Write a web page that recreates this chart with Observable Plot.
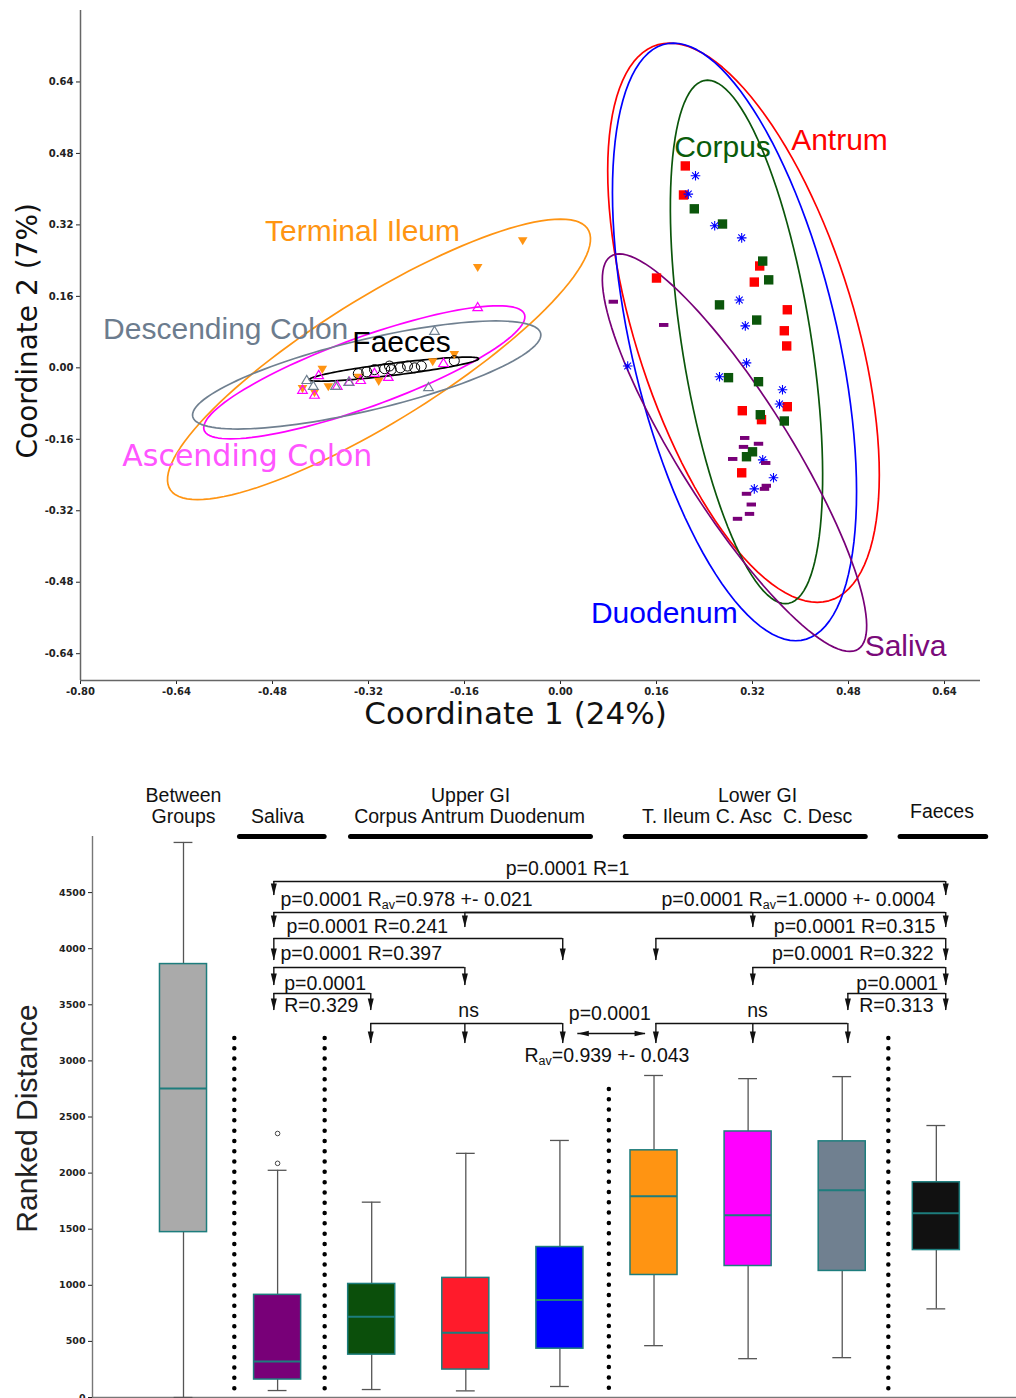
<!DOCTYPE html>
<html><head><meta charset="utf-8">
<script src="https://cdn.jsdelivr.net/npm/d3@7"></script>
<script src="https://cdn.jsdelivr.net/npm/@observablehq/plot@0.6"></script>
<style>
body{margin:0;background:#fff;}
#wrap{width:1016px;}
#wrap svg{display:block;}
</style></head><body><div id="wrap"></div>
<script>
// ================= TOP CHART DATA (PCoA) =================
const xTicks = [-0.80, -0.64, -0.48, -0.32, -0.16, 0.00, 0.16, 0.32, 0.48, 0.64];
const yTicks = [-0.64, -0.48, -0.32, -0.16, 0.00, 0.16, 0.32, 0.48, 0.64];

const groupNames  = ["Antrum", "Corpus", "Duodenum", "Saliva", "Terminal Ileum", "Ascending Colon", "Descending Colon", "Faeces"];
const groupColors = ["#ff0000", "#0b560b", "#0000ff", "#780078", "#ff9412", "#ff00ff", "#708090", "#000000"];

const antrumPts = [[0.208,0.452],[0.205,0.387],[0.160,0.201],[0.332,0.228],[0.323,0.192],[0.378,0.130],[0.373,0.083],[0.377,0.049],[0.303,-0.096],[0.378,-0.087],[0.335,-0.116],[0.302,-0.235]];
const corpusPts = [[0.223,0.356],[0.270,0.322],[0.337,0.239],[0.347,0.197],[0.265,0.141],[0.327,0.107],[0.280,-0.022],[0.330,-0.031],[0.333,-0.105],[0.373,-0.119],[0.320,-0.188],[0.310,-0.199]];
const duodenumPts = [[0.225,0.430],[0.213,0.389],[0.257,0.318],[0.302,0.291],[0.298,0.152],[0.308,0.094],[0.112,0.004],[0.310,0.011],[0.265,-0.020],[0.370,-0.049],[0.365,-0.081],[0.337,-0.206],[0.355,-0.246],[0.323,-0.271]];
const salivaPts = [[0.088,0.148],[0.172,0.096],[0.307,-0.157],[0.305,-0.177],[0.330,-0.170],[0.287,-0.204],[0.342,-0.213],[0.343,-0.264],[0.340,-0.271],[0.310,-0.282],[0.318,-0.306],[0.315,-0.327],[0.295,-0.338]];
const ileumPts = [[-0.138,0.224],[-0.063,0.284],[-0.177,0.029],[-0.213,0.013],[-0.397,-0.004],[-0.303,-0.031],[-0.387,-0.043],[-0.430,-0.047],[-0.410,-0.056],[-0.337,-0.022]];
const ascPts = [[-0.430,-0.049],[-0.403,-0.016],[-0.410,-0.060],[-0.372,-0.040],[-0.352,-0.031],[-0.333,-0.027],[-0.310,-0.011],[-0.287,-0.020],[-0.195,0.011],[-0.138,0.136]];
const descPts = [[-0.423,-0.027],[-0.412,-0.040],[-0.375,-0.040],[-0.353,-0.031],[-0.210,0.083],[-0.220,-0.043]];
const faecesPts = [[-0.337,-0.013],[-0.323,-0.009],[-0.310,-0.004],[-0.293,-0.002],[-0.285,0.004],[-0.282,-0.004],[-0.267,0.000],[-0.255,0.004],[-0.243,0.000],[-0.232,0.004],[-0.177,0.016]];

// ellipse: centre + conjugate semi-diameters (a, b), same order as groupNames
const ellipseCx = [0.305, 0.310, 0.290, 0.290, -0.3025, -0.327, -0.323, -0.2775];
const ellipseCy = [0.101, 0.058, 0.058, -0.190, 0.019, -0.010, -0.016, -0.003];
const ellipseAx = [0.123, 0.065, 0.102, 0.192, -0.3025, -0.223, -0.215, 0.141];
const ellipseAy = [-0.626, -0.586, -0.669, -0.445, -0.314, -0.149, -0.121, 0.0235];
const ellipseBx = [0.190, 0.109, 0.176, 0.108, 0.181, 0.148, 0.195, 0.0012];
const ellipseBy = [0, 0, 0, 0, 0, 0, 0, -0.0133];

const labelText  = ["Terminal Ileum", "Descending Colon", "Faeces", "Ascending Colon", "Corpus", "Antrum", "Duodenum", "Saliva"];
const labelX     = [-0.330, -0.558, -0.265, -0.522, 0.270, 0.465, 0.173, 0.575];
const labelY     = [0.306, 0.085, 0.056, -0.199, 0.494, 0.510, -0.550, -0.624];
const labelColor = ["#ff9512", "#6c7c8e", "#000000", "#ff55ff", "#0a5c0a", "#ff0000", "#0000ff", "#7a0a7a"];

// ================= BOTTOM CHART DATA (box plots) =================
const boxNames = ["Between Groups", "Saliva", "Corpus", "Antrum", "Duodenum", "T. Ileum", "C. Asc", "C. Desc", "Faeces"];
const boxLow  = [0, 62, 71, 59, 98, 462, 346, 355, 790];
const boxQ1   = [1474, 160, 382, 249, 435, 1092, 1172, 1128, 1314];
const boxMed  = [2753, 320, 720, 577, 870, 1794, 1625, 1847, 1643];
const boxQ3   = [3863, 915, 1012, 1066, 1341, 2203, 2371, 2283, 1918];
const boxHigh = [4947, 2025, 1741, 2176, 2291, 2870, 2842, 2860, 2424];
const boxFill = ["#aaaaaa", "#780078", "#0b4f0b", "#ff1b2b", "#0000ff", "#ff9412", "#ff00ff", "#708090", "#111111"];
const outlierBox   = [1, 1];
const outlierValue = [2087, 2353];
const rankTicks = [0, 500, 1000, 1500, 2000, 2500, 3000, 3500, 4000, 4500];

const headerText = ["Between", "Groups", "Saliva", "Upper GI", "Corpus Antrum Duodenum", "Lower GI", "T. Ileum C. Asc\u00a0 C. Desc", "Faeces"];
const headerX    = [0, 0, 1, 3.05, 3.04, 6.1, 5.99, 8.06];
const headerY    = [5365, 5178, 5178, 5365, 5178, 5365, 5178, 5223];
const headerBarStart = [0.60, 1.78, 4.70, 7.62];
const headerBarEnd   = [1.50, 4.33, 7.25, 8.53];
const headerBarLevel = 5000;

const separatorX   = [0.54, 1.50, 4.52, 7.49];
const separatorTop = [3200, 3200, 2745, 3200];

const bracketLevel = [4599, 4323, 4323, 4091, 4091, 3832, 3832, 3601, 3601, 3333, 3333];
const bracketTip   = [4474, 4190, 4190, 3895, 3895, 3672, 3672, 3449, 3449, 3155, 3155];
const bracketDrops = [[0.96,8.1],[0.96,6.05],[2.99,8.1],[0.96,4.03],[5.02,8.1],[0.96,2.99],[6.05,8.1],[0.96,1.99],[7.06,8.1],[1.99,2.99,4.03],[5.02,6.05,7.06]];
const dblArrowX1 = 4.19, dblArrowX2 = 4.91, dblArrowY = 3244;

const annoText = ["p=0.0001 R=1", "p=0.0001 R_av=0.978 +- 0.021", "p=0.0001 R_av=1.0000 +- 0.0004",
  "p=0.0001 R=0.241", "p=0.0001 R=0.315", "p=0.0001 R=0.397", "p=0.0001 R=0.322",
  "p=0.0001", "p=0.0001", "R=0.329", "R=0.313", "ns", "ns", "p=0.0001", "R_av=0.939 +- 0.043"];
const annoX = [4.08, 1.03, 7.99, 1.095, 7.99, 1.03, 7.97, 1.07, 8.02, 1.07, 7.97, 3.03, 6.1, 4.53, 4.5];
const annoY = [4715, 4439, 4439, 4198, 4198, 3957, 3957, 3690, 3690, 3494, 3494, 3449, 3449, 3422, 3048];
const annoAnchor = ["middle","start","end","start","end","start","end","start","end","start","end","middle","middle","middle","middle"];

// ================= symbols =================
const sym = f => ({draw(c, size){ f(c, Math.sqrt(size / Math.PI)); }});
const symSquare = sym((c,r)=>{ c.rect(-r,-r,2*r,2*r); });
const symDash   = sym((c,r)=>{ c.rect(-r,-0.42*r,2*r,0.84*r); });
const symDown   = sym((c,r)=>{ c.moveTo(-r,-0.8*r); c.lineTo(r,-0.8*r); c.lineTo(0,0.9*r); c.closePath(); });
const symUp     = sym((c,r)=>{ c.moveTo(0,-0.95*r); c.lineTo(r,0.75*r); c.lineTo(-r,0.75*r); c.closePath(); });
const symStar   = sym((c,r)=>{ for (let k=0;k<4;k++){ const a=k*Math.PI/4; c.moveTo(-r*Math.cos(a),-r*Math.sin(a)); c.lineTo(r*Math.cos(a),r*Math.sin(a)); } });
const symRing   = sym((c,r)=>{ c.moveTo(r,0); c.arc(0,0,r,0,2*Math.PI); });
const symArrow  = sym((c,r)=>{ c.moveTo(-0.5*r,-2*r); c.lineTo(0.5*r,-2*r); c.lineTo(0,0); c.closePath(); });

const fmt = d => d.toFixed(2);
const px = d => d[0], py = d => d[1];

// ellipse outlines from parameters
const ellipseMarks = groupNames.map((g, i) => {
  const pts = d3.range(0, 121).map(k => {
    const t = 2 * Math.PI * k / 120;
    return [ellipseCx[i] + ellipseAx[i]*Math.cos(t) + ellipseBx[i]*Math.sin(t),
            ellipseCy[i] + ellipseAy[i]*Math.cos(t) + ellipseBy[i]*Math.sin(t)];
  });
  return Plot.line(pts, {x: px, y: py, stroke: groupColors[i], strokeWidth: 1.7});
});

const labelIdx = d3.range(labelText.length);
const topPlot = Plot.plot({
  width: 1016, height: 740,
  marginLeft: 80, marginRight: 36, marginTop: 10, marginBottom: 60,
  x: {domain: [-0.8, 0.7], axis: null},
  y: {domain: [-0.7, 0.8], axis: null},
  color: {type: "identity"},
  style: {fontFamily: "'Liberation Sans', Arial, sans-serif", background: "#fff"},
  marks: [
    Plot.axisX({ticks: xTicks, tickFormat: fmt, tickSize: 4, tickPadding: 3, fontSize: 10, fontWeight: "bold", fontFamily: "DejaVu Sans", color: "#222", label: null}),
    Plot.axisY({ticks: yTicks, tickFormat: fmt, tickSize: 4, tickPadding: 3, fontSize: 10, fontWeight: "bold", fontFamily: "DejaVu Sans", color: "#222", label: null}),
    Plot.ruleX([-0.8], {stroke: "#666", strokeWidth: 1.5}),
    Plot.ruleY([-0.7], {stroke: "#666", strokeWidth: 1.5}),
    ...ellipseMarks,
    Plot.dot(antrumPts,   {x: px, y: py, symbol: symSquare, r: 4.7, fill: groupColors[0], stroke: "none"}),
    Plot.dot(corpusPts,   {x: px, y: py, symbol: symSquare, r: 4.7, fill: groupColors[1], stroke: "none"}),
    Plot.dot(duodenumPts, {x: px, y: py, symbol: symStar, r: 4.8, fill: "none", stroke: groupColors[2], strokeWidth: 1.1}),
    Plot.dot(salivaPts,   {x: px, y: py, symbol: symDash, r: 4.7, fill: groupColors[3], stroke: "none"}),
    Plot.dot(ileumPts,    {x: px, y: py, symbol: symDown, r: 4.8, fill: groupColors[4], stroke: "none"}),
    Plot.dot(ascPts,      {x: px, y: py, symbol: symUp, r: 4.8, fill: "none", stroke: groupColors[5], strokeWidth: 1.2}),
    Plot.dot(descPts,     {x: px, y: py, symbol: symUp, r: 4.8, fill: "none", stroke: groupColors[6], strokeWidth: 1.2}),
    Plot.dot(faecesPts,   {x: px, y: py, symbol: symRing, r: 5, fill: "none", stroke: groupColors[7], strokeWidth: 1}),
    Plot.text(labelIdx.filter(i => labelText[i] !== "Ascending Colon"), {
      x: i => labelX[i], y: i => labelY[i], text: i => labelText[i], fill: i => labelColor[i], fontSize: 30}),
    Plot.text(labelIdx.filter(i => labelText[i] === "Ascending Colon"), {
      x: i => labelX[i], y: i => labelY[i], text: i => labelText[i], fill: i => labelColor[i], fontSize: 30, fontFamily: "DejaVu Sans"}),
    Plot.text(["Coordinate 1 (24%)"], {x: () => -0.075, y: () => -0.776, fontSize: 31, fontFamily: "DejaVu Sans", fill: "#111"}),
    Plot.text(["Coordinate 2 (7%)"], {x: () => -0.888, y: () => 0.083, rotate: -90, fontSize: 28, fontFamily: "DejaVu Sans", fill: "#111"})
  ]
});

// ---------- bottom chart ----------
const idx = d3.range(boxNames.length);
const hSegs = bracketDrops.map((xs, k) => ({x1: d3.min(xs), x2: d3.max(xs), y: bracketLevel[k]}));
const vSegs = bracketDrops.flatMap((xs, k) => xs.map(x => ({x, y1: bracketLevel[k], y2: bracketTip[k]})));
const bracketColor = "#111";
const annoIdx = d3.range(annoText.length);
const annoMarks = ["start", "middle", "end"].map(anchor =>
  Plot.text(annoIdx.filter(i => annoAnchor[i] === anchor), {
    x: i => annoX[i], y: i => annoY[i], text: i => annoText[i],
    textAnchor: anchor, fontSize: 19.5, fill: "#111"}));

const bottomPlot = Plot.plot({
  width: 1016, height: 658,
  marginLeft: 92, marginRight: 0, marginTop: 96, marginBottom: 1,
  x: {domain: [-0.967, 8.852], axis: null},
  y: {domain: [0, 5000], axis: null},
  color: {type: "identity"},
  style: {fontFamily: "'Liberation Sans', Arial, sans-serif", background: "#fff"},
  marks: [
    Plot.ruleX([-0.967], {stroke: "#777", strokeWidth: 1.4}),
    Plot.ruleY([0], {stroke: "#777", strokeWidth: 1.6}),
    Plot.axisY({ticks: rankTicks, tickFormat: d => String(d), tickSize: 4, tickPadding: 3, fontSize: 9.5, fontWeight: "bold", fontFamily: "DejaVu Sans", color: "#222", label: null}),
    // group separators
    Plot.ruleX(separatorX, {x: d => d, y1: (d, i) => separatorTop[i], y2: 0, stroke: "#000", strokeWidth: 4.5, strokeDasharray: "0 10.3", strokeLinecap: "round"}),
    // header
    Plot.ruleY(headerBarStart, {x1: d => d, x2: (d, i) => headerBarEnd[i], y: () => headerBarLevel, stroke: "#000", strokeWidth: 5, strokeLinecap: "round"}),
    Plot.text(headerText, {x: (d, i) => headerX[i], y: (d, i) => headerY[i], fontSize: 19.5, fill: "#111"}),
    // box plots
    Plot.ruleX(idx, {x: i => i, y1: i => boxLow[i], y2: i => boxQ1[i], stroke: "#555", strokeWidth: 1.3}),
    Plot.ruleX(idx, {x: i => i, y1: i => boxQ3[i], y2: i => boxHigh[i], stroke: "#555", strokeWidth: 1.3}),
    Plot.ruleY(idx, {x1: i => i - 0.1, x2: i => i + 0.1, y: i => boxHigh[i], stroke: "#555", strokeWidth: 1.3}),
    Plot.ruleY(idx, {x1: i => i - 0.1, x2: i => i + 0.1, y: i => boxLow[i], stroke: "#555", strokeWidth: 1.3}),
    Plot.rect(idx, {x1: i => i - 0.25, x2: i => i + 0.25, y1: i => boxQ1[i], y2: i => boxQ3[i], fill: i => boxFill[i], stroke: "#1d7d7d", strokeWidth: 1.5}),
    Plot.ruleY(idx, {x1: i => i - 0.25, x2: i => i + 0.25, y: i => boxMed[i], stroke: "#1d7d7d", strokeWidth: 2}),
    Plot.dot(outlierValue, {x: (d, i) => outlierBox[i], y: d => d, r: 2.3, fill: "none", stroke: "#444", strokeWidth: 1}),
    // brackets
    Plot.ruleY(hSegs, {x1: "x1", x2: "x2", y: "y", stroke: bracketColor, strokeWidth: 1.6}),
    Plot.ruleX(vSegs, {x: "x", y1: "y1", y2: "y2", stroke: bracketColor, strokeWidth: 1.4}),
    Plot.dot(vSegs, {x: "x", y: "y2", symbol: symArrow, r: 6, fill: bracketColor, stroke: "none"}),
    Plot.ruleY([dblArrowY], {x1: () => dblArrowX1, x2: () => dblArrowX2, y: d => d, stroke: bracketColor, strokeWidth: 1.6}),
    Plot.dot([dblArrowX1], {x: d => d, y: () => dblArrowY, symbol: symArrow, r: 5.5, rotate: 90, fill: bracketColor, stroke: "none"}),
    Plot.dot([dblArrowX2], {x: d => d, y: () => dblArrowY, symbol: symArrow, r: 5.5, rotate: -90, fill: bracketColor, stroke: "none"}),
    ...annoMarks,
    Plot.text(["Ranked Distance"], {x: () => -1.658, y: () => 2487, rotate: -90, fontSize: 30, fill: "#222"})
  ]
});

// subscript "av" in R_av labels
function subscriptAv(svg) {
  const ns = "http://www.w3.org/2000/svg";
  svg.querySelectorAll("text, tspan").forEach(el => {
    if (el.children.length) return;
    const s = el.textContent;
    if (!s.includes("R_av")) return;
    const [a, b] = s.split("R_av");
    el.textContent = "";
    const t1 = document.createElementNS(ns, "tspan"); t1.textContent = a + "R"; el.appendChild(t1);
    const t2 = document.createElementNS(ns, "tspan"); t2.textContent = "av"; t2.setAttribute("font-size", "12.5"); t2.setAttribute("dy", "3"); el.appendChild(t2);
    const t3 = document.createElementNS(ns, "tspan"); t3.textContent = b; t3.setAttribute("dy", "-3"); el.appendChild(t3);
  });
}
subscriptAv(bottomPlot);

const wrap = document.getElementById("wrap");
wrap.appendChild(topPlot);
wrap.appendChild(bottomPlot);
</script></body></html>
